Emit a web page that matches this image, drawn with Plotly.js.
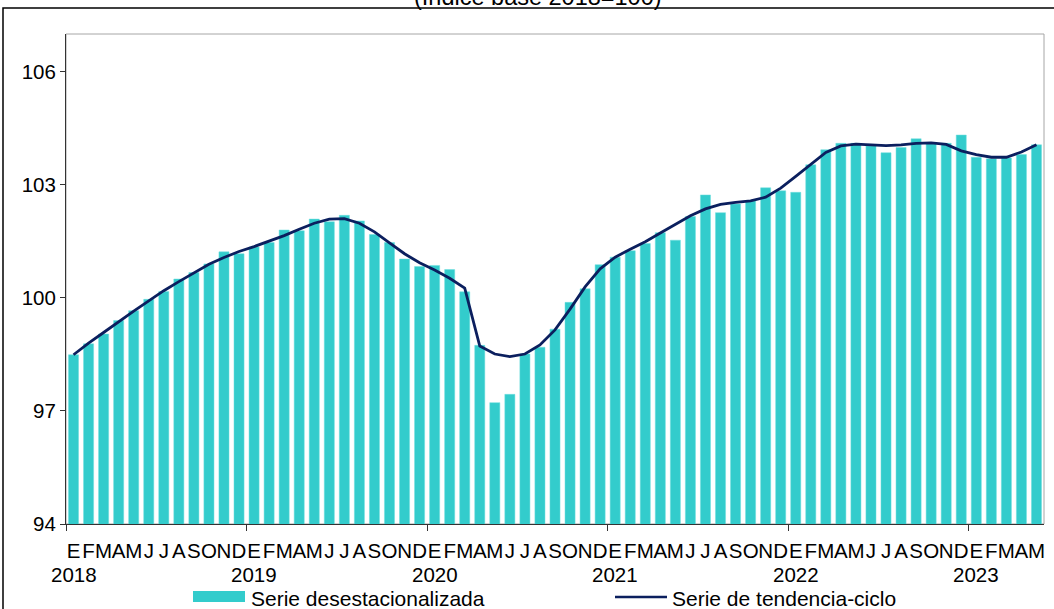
<!DOCTYPE html>
<html>
<head>
<meta charset="utf-8">
<script src="https://cdn.plot.ly/plotly-3.0.1.min.js"></script>
<style>
  html, body { margin: 0; padding: 0; background: #fff; }
  #chart { width: 1054px; height: 609px; }
</style>
</head>
<body>
<div id="chart"></div>
<script>
// ---- Data ----
const monthLetters = ['E','F','M','A','M','J','J','A','S','O','N','D'];
const years = [2018, 2019, 2020, 2021, 2022, 2023];
const nMonths = 65; // Jan 2018 .. May 2023

const serieDesestacionalizada = [
  98.49, 98.78, 99.04, 99.40, 99.66, 99.96, 100.17, 100.50, 100.67, 100.90, 101.22, 101.17,
  101.35, 101.47, 101.80, 101.78, 102.09, 102.02, 102.19, 102.04, 101.68, 101.47, 101.03, 100.83,
  100.86, 100.75, 100.16, 98.74, 97.22, 97.44, 98.51, 98.69, 99.17, 99.88, 100.24, 100.88,
  101.08, 101.25, 101.44, 101.73, 101.53, 102.16, 102.73, 102.26, 102.49, 102.57, 102.92, 102.84,
  102.80, 103.53, 103.93, 104.10, 104.10, 104.03, 103.85, 103.99, 104.22, 104.12, 104.10, 104.32,
  103.73, 103.69, 103.71, 103.80, 104.06
];

const serieTendenciaCiclo = [
  98.49, 98.80, 99.08, 99.37, 99.65, 99.92, 100.19, 100.43, 100.67, 100.89, 101.07, 101.23,
  101.36, 101.50, 101.65, 101.82, 101.98, 102.09, 102.10, 101.98, 101.75, 101.46, 101.17, 100.93,
  100.74, 100.52, 100.26, 98.72, 98.51, 98.44, 98.51, 98.75, 99.15, 99.70, 100.29, 100.77,
  101.08, 101.29, 101.49, 101.72, 101.96, 102.18, 102.36, 102.48, 102.53, 102.57, 102.67, 102.91,
  103.22, 103.55, 103.86, 104.03, 104.08, 104.06, 104.04, 104.06, 104.10, 104.11, 104.07, 103.90,
  103.80, 103.73, 103.73, 103.87, 104.06
];

const yTicks = [94, 97, 100, 103, 106];
const legendNames = ['Serie desestacionalizada', 'Serie de tendencia-ciclo'];
const titleText = '(Índice base 2018=100)';

// ---- Build axis labels ----
const xIdx = [];
const tickText = [];
const yearBoundaries = [];
const januaryIdx = [];
for (let i = 0; i < nMonths; i++) {
  xIdx.push(i);
  const m = i % 12;
  tickText.push(monthLetters[m]);
  if (m === 0) {
    yearBoundaries.push(i - 0.5);
    januaryIdx.push(i);
  }
}

const barColor = '#33CCCC';
const lineColor = '#0B1F5E';
const fontFamily = 'Liberation Sans, Arial, sans-serif';

const traces = [
  {
    type: 'bar',
    x: xIdx,
    y: serieDesestacionalizada,
    name: legendNames[0],
    marker: { color: barColor, line: { color: '#6fdede', width: 0.5 } },
    showlegend: false,
    hoverinfo: 'y'
  },
  {
    type: 'scatter',
    mode: 'lines',
    x: xIdx,
    y: serieTendenciaCiclo,
    name: legendNames[1],
    line: { color: lineColor, width: 2.8, shape: 'linear' },
    showlegend: false,
    hoverinfo: 'y'
  }
];

// pixel helpers for paper coordinates (plot area: x 66..1044, y 34..524)
const L = 66, R = 10, T = 34, B = 85, W = 1054, H = 609;
const pw = W - L - R, ph = H - T - B;
const px = v => (v - L) / pw;
const py = v => (H - B - v) / ph;

const yearAnnotations = januaryIdx.map((idx, k) => ({
  xref: 'x', yref: 'paper', x: idx, y: py(574), xanchor: 'center', yanchor: 'middle',
  text: String(years[k]), showarrow: false,
  font: { family: fontFamily, size: 20.5, color: '#000' }
}));

const layout = {
  width: W,
  height: H,
  margin: { l: L, r: R, t: T, b: B, pad: 0 },
  paper_bgcolor: '#ffffff',
  plot_bgcolor: '#ffffff',
  font: { family: fontFamily, size: 20, color: '#000' },
  bargap: 0.33,
  showlegend: false,
  xaxis: {
    range: [-0.5, nMonths - 0.5],
    tickmode: 'array',
    tickvals: xIdx,
    ticktext: tickText,
    tickangle: 0,
    ticks: '',
    ticklabelstandoff: 8,
    showgrid: false,
    zeroline: false,
    showline: true,
    linecolor: '#333',
    linewidth: 1,
    tickfont: { family: fontFamily, size: 20.5, color: '#000' },
    minor: {
      tickmode: 'array',
      tickvals: yearBoundaries,
      ticks: 'outside',
      ticklen: 6,
      tickwidth: 1,
      tickcolor: '#333',
      showgrid: false
    },
    fixedrange: true
  },
  yaxis: {
    range: [94, 107],
    tickmode: 'array',
    tickvals: yTicks,
    ticktext: yTicks.map(String),
    ticks: 'outside',
    ticklen: 5,
    tickwidth: 1,
    tickcolor: '#333',
    showgrid: false,
    zeroline: false,
    showline: true,
    linecolor: '#333',
    linewidth: 1,
    tickfont: { family: fontFamily, size: 20.5, color: '#000' },
    fixedrange: true
  },
  shapes: [
    // plot-area frame (light grey)
    { type: 'rect', xref: 'paper', yref: 'paper', x0: 0, x1: 1, y0: 0, y1: 1,
      line: { color: '#a6a6a6', width: 1 }, layer: 'below' },
    // outer chart border
    { type: 'rect', xref: 'paper', yref: 'paper', x0: px(3), x1: px(1062), y0: py(625), y1: py(8),
      line: { color: '#000', width: 1.5 } },
    // legend symbols
    { type: 'rect', xref: 'paper', yref: 'paper', x0: px(193), x1: px(245), y0: py(602), y1: py(591),
      fillcolor: barColor, line: { width: 0 } },
    { type: 'line', xref: 'paper', yref: 'paper', x0: px(615), x1: px(667), y0: py(597), y1: py(597),
      line: { color: lineColor, width: 2.5 } }
  ],
  annotations: [
    // title (partly cut off at the top, as in the reference)
    { xref: 'paper', yref: 'paper', x: px(538), y: py(-3), xanchor: 'center', yanchor: 'middle',
      text: titleText, showarrow: false, font: { family: fontFamily, size: 23.5, color: '#000' } },
    // legend texts
    { xref: 'paper', yref: 'paper', x: px(249), y: py(598), xanchor: 'left', yanchor: 'middle',
      text: legendNames[0], showarrow: false, font: { family: fontFamily, size: 21, color: '#000' } },
    { xref: 'paper', yref: 'paper', x: px(670), y: py(598), xanchor: 'left', yanchor: 'middle',
      text: legendNames[1], showarrow: false, font: { family: fontFamily, size: 21, color: '#000' } }
  ].concat(yearAnnotations)
};

Plotly.newPlot('chart', traces, layout, { displayModeBar: false, staticPlot: true });
</script>
</body>
</html>
